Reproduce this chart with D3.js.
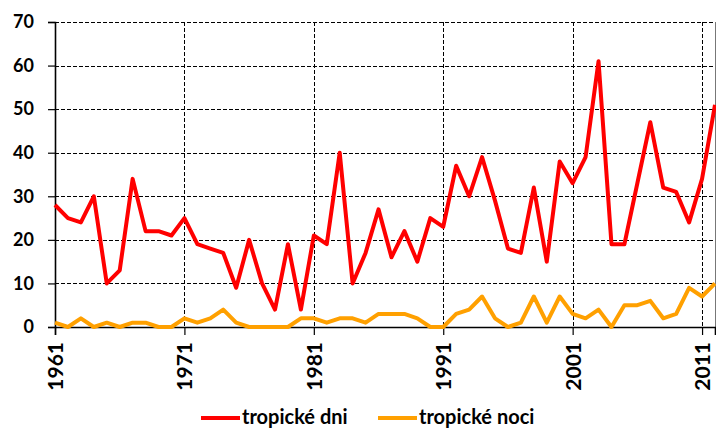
<!DOCTYPE html>
<html>
<head>
<meta charset="utf-8">
<script src="https://cdn.jsdelivr.net/npm/d3@7"></script>
<style>
  body { margin: 0; background: #fff; }
  svg { display: block; }
  text { font-family: Lato, "Open Sans", sans-serif; font-weight: bold; fill: #000; }
</style>
</head>
<body>
<svg id="chart" width="716" height="429"></svg>
<script>
const years = d3.range(1961, 2013);
const tropickeDni = [28,25,24,30,10,13,34,22,22,21,25,19,18,17,9,20,10,4,19,4,
                     21,19,40,10,17,27,16,22,15,25,23,37,30,39,29,18,17,32,15,38,
                     33,39,61,19,19,33,47,32,31,24,34,51];
const tropickeNoci = [1,0,2,0,1,0,1,1,0,0,2,1,2,4,1,0,0,0,0,2,
                      2,1,2,2,1,3,3,3,2,0,0,3,4,7,2,0,1,7,1,7,
                      3,2,4,0,5,5,6,2,3,9,7,10];
const xTicks = [1961, 1971, 1981, 1991, 2001, 2011];
const yTicks = [0, 10, 20, 30, 40, 50, 60, 70];
const seriesNames = ["tropické dni", "tropické noci"];
const seriesColors = ["#ff0000", "#ffa000"];

const svg = d3.select("#chart");
const pLeft = 55, pRight = 715, pTop = 22, pBottom = 327;

const x = d3.scaleLinear().domain([1961, 2012]).range([pLeft, pRight]);
const y = d3.scaleLinear().domain([0, 70]).range([pBottom, pTop]);

// horizontal grid
svg.append("g").selectAll("line").data(yTicks.filter(d => d > 0)).join("line")
  .attr("x1", pLeft).attr("x2", pRight)
  .attr("y1", d => Math.round(y(d)) + 0.5).attr("y2", d => Math.round(y(d)) + 0.5)
  .attr("stroke", "#000").attr("stroke-width", 1).attr("stroke-dasharray", "4,2");

// vertical grid
svg.append("g").selectAll("line").data(xTicks.filter(d => d > 1961)).join("line")
  .attr("x1", d => Math.round(x(d)) + 0.5).attr("x2", d => Math.round(x(d)) + 0.5)
  .attr("y1", pTop).attr("y2", pBottom)
  .attr("stroke", "#000").attr("stroke-width", 1).attr("stroke-dasharray", "4,2");

// right border
svg.append("line").attr("x1", pRight + 0.5).attr("x2", pRight + 0.5).attr("y1", pTop).attr("y2", pBottom)
  .attr("stroke", "#777").attr("stroke-width", 1);

// Y axis
const yAxis = svg.append("g").attr("transform", `translate(${pLeft},0)`)
  .call(d3.axisLeft(y).tickValues(yTicks).tickSize(7).tickPadding(14).tickFormat(d3.format("d")));
yAxis.select(".domain").attr("stroke", "#000").attr("stroke-width", 1.6);
yAxis.selectAll(".tick line").attr("stroke", "#000").attr("stroke-width", 1.2);
yAxis.selectAll("text").style("font-size", "18px").style("font-family", "Lato, sans-serif").style("font-weight", "bold");

// X axis
const xAxis = svg.append("g").attr("transform", `translate(0,${pBottom})`)
  .call(d3.axisBottom(x).tickValues(xTicks).tickSize(8).tickFormat(d3.format("d")));
xAxis.select(".domain").attr("stroke", "#000").attr("stroke-width", 1.6);
xAxis.selectAll(".tick line").attr("stroke", "#000").attr("stroke-width", 1.2);
xAxis.selectAll("text")
  .style("font-size", "21px").style("font-family", "Lato, sans-serif").style("font-weight", "bold")
  .attr("text-anchor", "end")
  .attr("dy", "0.36em")
  .attr("transform", "translate(0,15) rotate(-90)")
  .attr("x", 0).attr("y", 0);

// lines
const line = d3.line().x((d, i) => x(years[i])).y(d => y(d)).curve(d3.curveLinear);
[tropickeDni, tropickeNoci].forEach((s, k) => {
  svg.append("path").datum(s)
    .attr("d", line)
    .attr("fill", "none")
    .attr("stroke", seriesColors[k])
    .attr("stroke-width", 4)
    .attr("stroke-linejoin", "round")
    .attr("stroke-linecap", "butt");
});

// legend
const legendX = [201, 378];
const lg = svg.append("g");
seriesNames.forEach((n, k) => {
  lg.append("line")
    .attr("x1", legendX[k]).attr("x2", legendX[k] + 39)
    .attr("y1", 418).attr("y2", 418)
    .attr("stroke", seriesColors[k]).attr("stroke-width", 4);
  lg.append("text")
    .attr("x", legendX[k] + 41).attr("y", 424)
    .style("font-size", "20px")
    .text(n);
});
</script>
</body>
</html>
